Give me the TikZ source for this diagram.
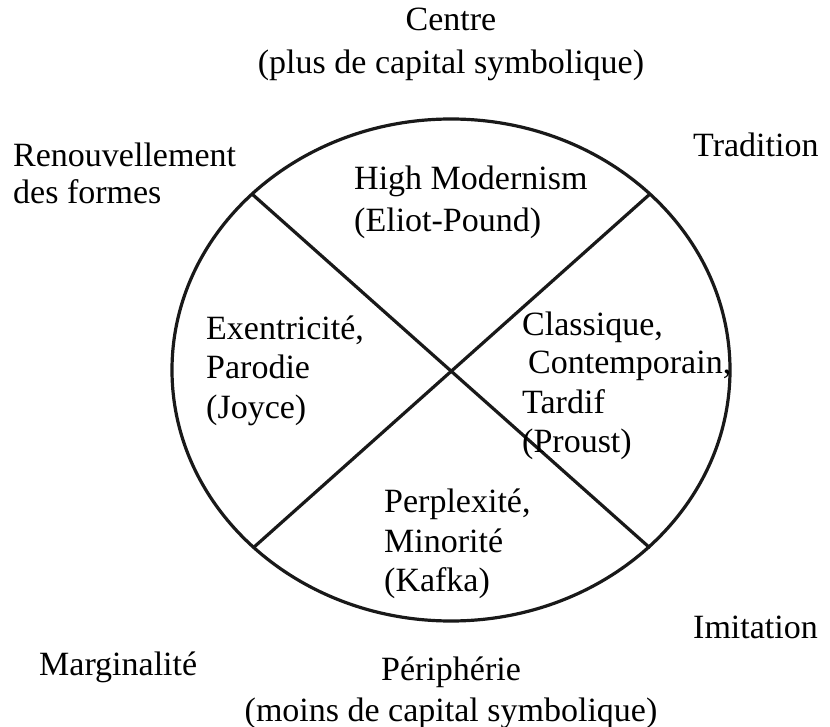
\documentclass[tikz,border=0pt]{standalone}
\usepackage{fontspec}
\setmainfont{Liberation Serif}
\newcommand{\mylines}[2][l]{\begin{tabular}[t]{@{}#1@{}}#2\end{tabular}}
\begin{document}
\begin{tikzpicture}[x=1pt,y=-1pt,
  txt/.style={inner sep=0pt,font=\fontsize{34}{39}\selectfont},
  lbl/.style={txt,anchor=base west},
  clbl/.style={txt,anchor=base},
  edge/.style={line width=3.2pt,draw=black!90}]
\useasboundingbox (0,0) rectangle (830,727);
\coordinate (C) at (451,370);
\draw[edge] (C) ellipse [x radius=279, y radius=251];
\coordinate (ul) at (252,194);
\coordinate (ur) at (650,194);
\coordinate (ll) at (253,548);
\coordinate (lr) at (650,548);
\draw[edge] (ul) -- (lr);
\draw[edge] (ur) -- (ll);
\node[clbl] (centre) at (451,31) {\mylines[c]{Centre\\[4pt](plus de capital symbolique)}};
\node[lbl] (renouv) at (13,167) {\mylines{Renouvellement\\[-2pt]des formes}};
\node[lbl] (trad) at (693,157) {Tradition};
\node[lbl] (high) at (354,190) {\mylines{High Modernism\\[3pt](Eliot-Pound)}};
\node[lbl] (exen) at (206,340) {\mylines{Exentricité,\\Parodie\\(Joyce)}};
\node[lbl] (class) at (522,335) {\mylines{Classique,\\\hspace{6pt}Contemporain,\\Tardif\\(Proust)}};
\node[lbl] (perp) at (384,512) {\mylines{Perplexité,\\[1pt]Minorité\\(Kafka)}};
\node[lbl] (marg) at (39,675) {Marginalité};
\node[lbl] (imit) at (693,638) {Imitation};
\node[clbl] (peri) at (451,680) {\mylines[c]{Périphérie\\[2pt](moins de capital symbolique)}};
\end{tikzpicture}
\end{document}
